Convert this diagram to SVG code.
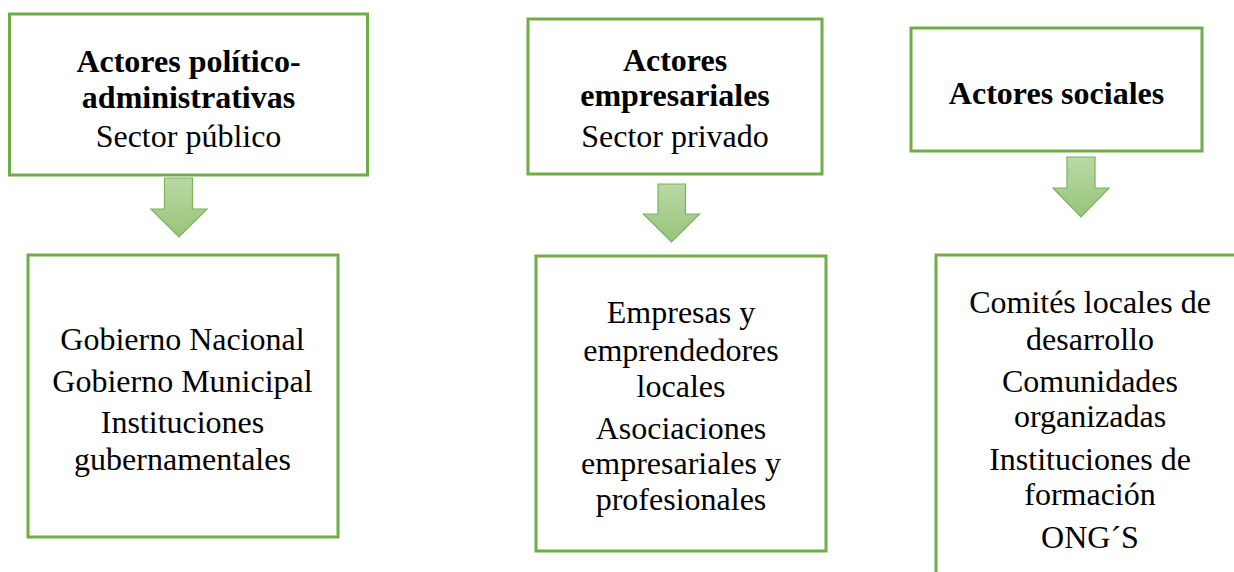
<svg xmlns="http://www.w3.org/2000/svg" width="1234" height="572" viewBox="0 0 1234 572">
<style>
.box{fill:#ffffff;stroke:#70ad47;stroke-width:3}
.t{font-family:"Liberation Serif","Times New Roman",serif;font-size:32px;fill:#000;text-anchor:middle}
.b{font-weight:bold}
.arr{fill:url(#g);stroke:#78b35a;stroke-width:1.2;stroke-linejoin:miter}
</style>
<defs>
<linearGradient id="g" x1="0" y1="0" x2="0" y2="1">
<stop offset="0" stop-color="#b9d9a6"/>
<stop offset="1" stop-color="#97c47a"/>
</linearGradient>
</defs>
<rect width="1234" height="572" fill="#ffffff"/>
<g id="n1">
<rect class="box" x="9.5" y="14" width="358" height="161"/>
<text class="t b" x="188.5" y="72">Actores político-</text>
<text class="t b" x="188.5" y="108">administrativas</text>
<text class="t" x="188.5" y="147">Sector público</text>
</g>
<g id="n2">
<rect class="box" x="528" y="19" width="294" height="155"/>
<text class="t b" x="675" y="71">Actores</text>
<text class="t b" x="675" y="106">empresariales</text>
<text class="t" x="675" y="147">Sector privado</text>
</g>
<g id="n3">
<rect class="box" x="911" y="28" width="291" height="123"/>
<text class="t b" x="1056.5" y="104">Actores sociales</text>
</g>
<g id="n4">
<rect class="box" x="28" y="255" width="310" height="282"/>
<text class="t" x="182.5" y="350">Gobierno Nacional</text>
<text class="t" x="182.5" y="392">Gobierno Municipal</text>
<text class="t" x="182.5" y="433">Instituciones</text>
<text class="t" x="182.5" y="470">gubernamentales</text>
</g>
<g id="n5">
<rect class="box" x="536" y="256" width="290" height="295"/>
<text class="t" x="681" y="323">Empresas y</text>
<text class="t" x="681" y="361">emprendedores</text>
<text class="t" x="681" y="397">locales</text>
<text class="t" x="681" y="439">Asociaciones</text>
<text class="t" x="681" y="474">empresariales y</text>
<text class="t" x="681" y="510">profesionales</text>
</g>
<g id="n6">
<rect class="box" x="936" y="255" width="310" height="330"/>
<text class="t" x="1090" y="313">Comités locales de</text>
<text class="t" x="1090" y="350">desarrollo</text>
<text class="t" x="1090" y="392">Comunidades</text>
<text class="t" x="1090" y="427">organizadas</text>
<text class="t" x="1090" y="470">Instituciones de</text>
<text class="t" x="1090" y="505">formación</text>
<text class="t" x="1090" y="548">ONG´S</text>
</g>
<g id="connectors">
<path class="arr" d="M164.5 178 H192.5 V209 H207 L179 237 L151 209 H164.5 Z"/>
<path class="arr" d="M658 184 H685.5 V214 H699.5 L671.5 242 L643.5 214 H658 Z"/>
<path class="arr" d="M1067 157 H1095 V188 H1109 L1081 217 L1053 188 H1067 Z"/>
</g>
</svg>
